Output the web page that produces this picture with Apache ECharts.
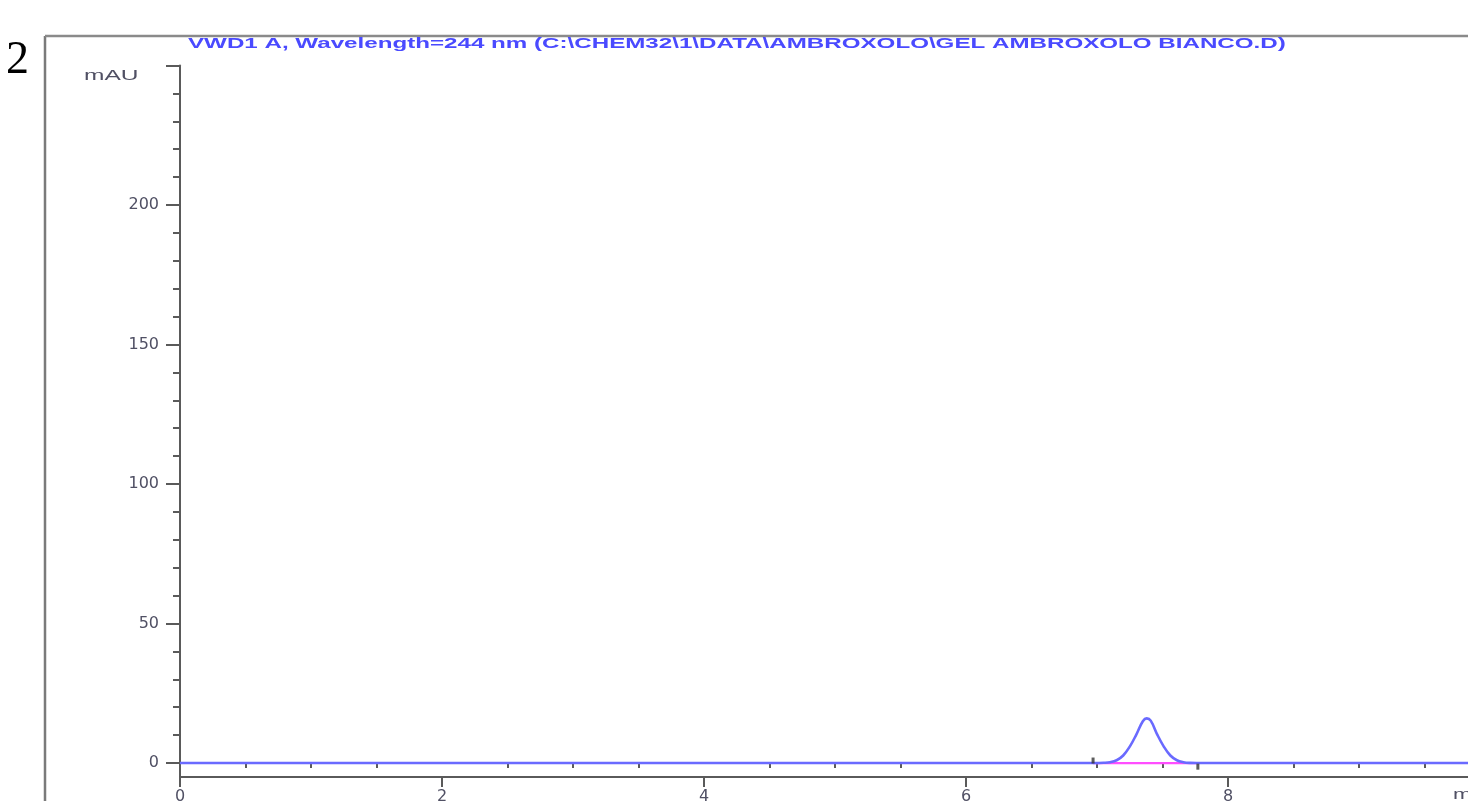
<!DOCTYPE html>
<html>
<head>
<meta charset="utf-8">
<script src="https://cdn.jsdelivr.net/npm/echarts@6/dist/echarts.min.js"></script>
<style>
html,body{margin:0;padding:0;background:#fff;}
#chart{width:1468px;height:801px;}
</style>
</head>
<body>
<div id="chart"></div>
<script>
// ---- data ----
const timeMin = [0, 6.95, 7.00, 7.05, 7.10, 7.15, 7.20, 7.25, 7.30, 7.35, 7.38, 7.41, 7.46, 7.51, 7.56, 7.61, 7.66, 7.71, 7.76, 10];
const signal  = [0, 0,    0.02, 0.08, 0.3,  1.0,  2.7,  5.9,  10.2, 15.0, 16.0, 15.2, 10.2, 5.9,  2.7,  1.0,  0.3,  0.05, 0,    0];
const baselineX = [6.97, 7.76];
const baselineY = [0, 0];
const markerX = [6.97, 7.77];
const markerY = [0.9, -1.3];
const xTickLabels = [0, 2, 4, 6, 8];
const xMinorTicks = [0.5,1,1.5,2.5,3,3.5,4.5,5,5.5,6.5,7,7.5,8.5,9,9.5];
const yLabelValues = [0, 50, 100, 150, 200];
const yMajorTicks = [0, 50, 100, 150, 200, 250];
const yMinorTicks = [10,20,30,40,60,70,80,90,110,120,130,140,160,170,180,190,210,220,230,240];
const titleText = 'VWD1 A, Wavelength=244 nm (C:\\CHEM32\\1\\DATA\\AMBROXOLO\\GEL AMBROXOLO BIANCO.D)';
const panelLabel = '2';
const yUnit = 'mAU';
const xUnit = 'min';

const chart = echarts.init(document.getElementById('chart'));
const axisColor = '#5a5a5a';
const labelColor = '#505064';
const lineData = timeMin.map((t, i) => [t, signal[i]]);
const baseData = baselineX.map((t, i) => [t, baselineY[i]]);
const markData = markerX.map((t, i) => [t, markerY[i]]);

chart.setOption({
  backgroundColor: '#ffffff',
  animation: false,
  grid: { left: 180, width: 1310, top: 65.5, bottom: 24, containLabel: false, outerBoundsMode: 'none' },
  xAxis: [{
    type: 'value', min: 0, max: 10,
    axisLine: { onZero: false, lineStyle: { color: axisColor, width: 2 } },
    axisTick: { show: true, length: 10, customValues: xTickLabels, lineStyle: { color: axisColor, width: 2 } },
    axisLabel: { margin: 12, color: labelColor, fontFamily: 'DejaVu Sans', fontSize: 16,
      customValues: xTickLabels },
    splitLine: { show: false }
  }, {
    type: 'value', min: 0, max: 10, position: 'bottom',
    axisLine: { show: false },
    axisTick: { show: true, length: 5, customValues: xMinorTicks, lineStyle: { color: axisColor, width: 2 } },
    axisLabel: { show: false },
    splitLine: { show: false }
  }],
  yAxis: [{
    type: 'value', min: -5, max: 250,
    axisLine: { show: true, lineStyle: { color: axisColor, width: 2 } },
    axisTick: { show: true, length: 14, customValues: yMajorTicks, lineStyle: { color: axisColor, width: 2 } },
    axisLabel: { margin: 21, color: labelColor, fontFamily: 'DejaVu Sans', fontSize: 16,
      customValues: yLabelValues },
    splitLine: { show: false }
  }, {
    type: 'value', min: -5, max: 250, position: 'left',
    axisLine: { show: false },
    axisTick: { show: true, length: 7, customValues: yMinorTicks, lineStyle: { color: axisColor, width: 2 } },
    axisLabel: { show: false },
    splitLine: { show: false }
  }],
  graphic: [
    { type: 'line', shape: { x1: 45, y1: 36, x2: 45, y2: 801 }, style: { stroke: '#7a7a7a', lineWidth: 2.5 } },
    { type: 'line', shape: { x1: 45, y1: 36, x2: 1468, y2: 36 }, style: { stroke: '#8a8a8a', lineWidth: 2.5 } },
    { type: 'text', x: 6, y: 38, style: { text: panelLabel, font: '46px "Liberation Serif", "DejaVu Serif", serif', fill: '#000' } },
    { type: 'text', x: 188, y: 36, scaleX: 1.61, style: { text: titleText, font: 'bold 15px "Liberation Sans", Arial, sans-serif', fill: '#4a4aff' } },
    { type: 'text', x: 84, y: 69, scaleX: 1.75, style: { text: yUnit, font: '14px "Liberation Sans", Arial, sans-serif', fill: labelColor } },
    { type: 'text', x: 1453, y: 788, scaleX: 1.6, style: { text: xUnit, font: '14px "Liberation Sans", Arial, sans-serif', fill: labelColor } }
  ],
  series: [
    { type: 'line', data: baseData, symbol: 'none', lineStyle: { color: '#ff4dff', width: 2.2 }, z: 2 },
    { type: 'line', data: lineData, symbol: 'none', smooth: 0.4,
      lineStyle: { color: '#6a6aff', width: 2.6 }, z: 3 },
    { type: 'scatter', data: markData, symbol: 'rect', symbolSize: [3, 6], itemStyle: { color: '#333' }, z: 4 }
  ]
});
</script>
</body>
</html>
